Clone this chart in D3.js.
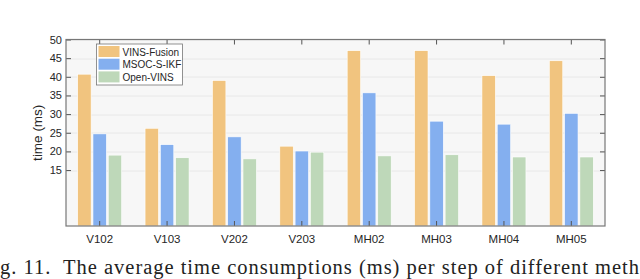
<!DOCTYPE html>
<html>
  <meta charset="utf-8" />
  <script src="https://cdn.jsdelivr.net/npm/d3@7/dist/d3.min.js"></script>
  <style>
    html,
    body {
      margin: 0;
      padding: 0;
      background: #fff;
    }
    svg {
      display: block;
    }
    .tick text {
      font-family: 'Liberation Sans', Arial, sans-serif;
      fill: #262626;
    }
    .y-axis .tick text {
      font-size: 11px;
    }
    .x-axis .tick text {
      font-size: 11.5px;
    }
    .legend text {
      font-family: 'Liberation Sans', Arial, sans-serif;
      font-size: 10px;
      fill: #262626;
    }
    .ylabel {
      font-family: 'Liberation Sans', Arial, sans-serif;
      font-size: 13.5px;
      fill: #262626;
    }
    .caption {
      font-family: 'Liberation Serif', 'Times New Roman', serif;
      font-size: 20.5px;
      fill: #222;
    }
  </style>
  <body>
    <div id="chart"></div>
  </body>
  <script>
    var sequences = ['V102', 'V103', 'V202', 'V203', 'MH02', 'MH03', 'MH04', 'MH05'];
    var methods = ['VINS-Fusion', 'MSOC-S-IKF', 'Open-VINS'];
    var vinsFusion = [40.7, 26.2, 39.0, 21.4, 47.0, 47.0, 40.3, 44.3];
    var msocSIkf = [24.7, 21.8, 23.9, 20.1, 35.7, 28.1, 27.3, 30.2];
    var openVins = [19.0, 18.3, 18.0, 19.8, 18.8, 19.1, 18.5, 18.5];
    var yTicks = [15, 20, 25, 30, 35, 40, 45, 50];
    var colors = ['#f1c47f', '#84afef', '#bed8b9'];
    var caption = 'Fig. 11.  The average time consumptions (ms) per step of different methods.';

    var series = [vinsFusion, msocSIkf, openVins];

    var container_width = 640,
      container_height = 279;
    var margin = { top: 39.5, right: 35, bottom: 53, left: 66 };
    var width = container_width - margin.left - margin.right,
      height = container_height - margin.top - margin.bottom;

    var svg = d3
      .select('#chart')
      .append('svg')
      .attr('width', container_width)
      .attr('height', container_height);

    var g = svg.append('g').attr('transform', 'translate(' + margin.left + ',' + margin.top + ')');

    var x_scale = d3.scaleBand().domain(sequences).range([0, width]).padding(0);
    var x_inner = d3.scaleBand().domain(methods).range([-22, 22]).paddingInner(0.12);
    var y_scale = d3.scaleLinear().domain([0, 50]).range([height, 0]);

    // axes background
    g.append('rect').attr('width', width).attr('height', height).attr('fill', '#f7f7f7');

    // horizontal grid
    g.append('g')
      .selectAll('line')
      .data(yTicks)
      .enter()
      .append('line')
      .attr('x1', 0)
      .attr('x2', width)
      .attr('y1', (d) => Math.round(y_scale(d)) + 0.5)
      .attr('y2', (d) => Math.round(y_scale(d)) + 0.5)
      .attr('stroke', '#e4e4e4')
      .attr('stroke-width', 0.8);

    // bars
    var groups = g
      .selectAll('g.group')
      .data(sequences)
      .enter()
      .append('g')
      .attr('class', 'group')
      .attr('transform', (d) => 'translate(' + (x_scale(d) + x_scale.bandwidth() / 2) + ',0)');

    groups
      .selectAll('rect')
      .data(function (d, i) {
        return methods.map(function (m, j) {
          return { method: m, value: series[j][i], k: j };
        });
      })
      .enter()
      .append('rect')
      .attr('x', (d) => x_inner(d.method))
      .attr('width', x_inner.bandwidth())
      .attr('y', (d) => y_scale(d.value))
      .attr('height', (d) => height - y_scale(d.value))
      .attr('fill', (d) => colors[d.k])
      .attr('stroke', '#ffffff')
      .attr('stroke-width', 0.6);

    // left axis
    var yAxis = g
      .append('g')
      .attr('class', 'y-axis')
      .call(d3.axisLeft(y_scale).tickValues(yTicks).tickSizeInner(-5).tickSizeOuter(0).tickPadding(4));
    yAxis.select('.domain').remove();

    // right axis ticks
    var yAxisR = g
      .append('g')
      .attr('transform', 'translate(' + width + ',0)')
      .call(d3.axisRight(y_scale).tickValues(yTicks).tickSizeInner(-5).tickSizeOuter(0).tickFormat(''));
    yAxisR.select('.domain').remove();

    // bottom axis
    var xAxis = g
      .append('g')
      .attr('class', 'x-axis')
      .attr('transform', 'translate(0,' + height + ')')
      .call(d3.axisBottom(x_scale).tickSizeInner(-5).tickSizeOuter(0).tickPadding(9));
    xAxis.select('.domain').remove();

    // top ticks
    var xAxisT = g
      .append('g')
      .call(d3.axisTop(x_scale).tickSizeInner(-5).tickSizeOuter(0).tickFormat(''));
    xAxisT.select('.domain').remove();

    g.selectAll('.tick line').attr('stroke', '#555').attr('stroke-width', 1);

    // box
    g.append('rect')
      .attr('width', width)
      .attr('height', height)
      .attr('fill', 'none')
      .attr('stroke', '#777')
      .attr('stroke-width', 1.2);

    // y label
    svg
      .append('text')
      .attr('class', 'ylabel')
      .attr('transform', 'translate(42,' + (margin.top + height / 2) + ') rotate(-90)')
      .attr('text-anchor', 'middle')
      .text('time (ms)');

    // legend
    var legend = g.append('g').attr('class', 'legend').attr('transform', 'translate(30.5,4.5)');
    legend
      .append('rect')
      .attr('width', 86)
      .attr('height', 41)
      .attr('fill', '#fff')
      .attr('stroke', '#777')
      .attr('stroke-width', 0.8);
    var items = legend
      .selectAll('g.item')
      .data(methods)
      .enter()
      .append('g')
      .attr('class', 'item')
      .attr('transform', (d, i) => 'translate(2,' + (2 + i * 12.7) + ')');
    items
      .append('rect')
      .attr('width', 21)
      .attr('height', 11)
      .attr('fill', (d, i) => colors[i]);
    items
      .append('text')
      .attr('x', 24)
      .attr('y', 9.5)
      .text((d) => d);

    // caption: the figure is cropped, so "Fi" falls off the left and "ods." off the right
    var cap = svg
      .append('text')
      .attr('class', 'caption')
      .attr('y', 274)
      .attr('xml:space', 'preserve')
      .text(caption);
    var node = cap.node();
    var start = 2; // "g"
    var end = caption.indexOf('meth') + 4;
    var plain = node.getSubStringLength(start, end - start);
    var ls = (640 - plain) / (end - start);
    cap.style('letter-spacing', ls + 'px');
    var lead = node.getSubStringLength(0, start);
    cap.attr('x', -lead);
  </script>
</html>
